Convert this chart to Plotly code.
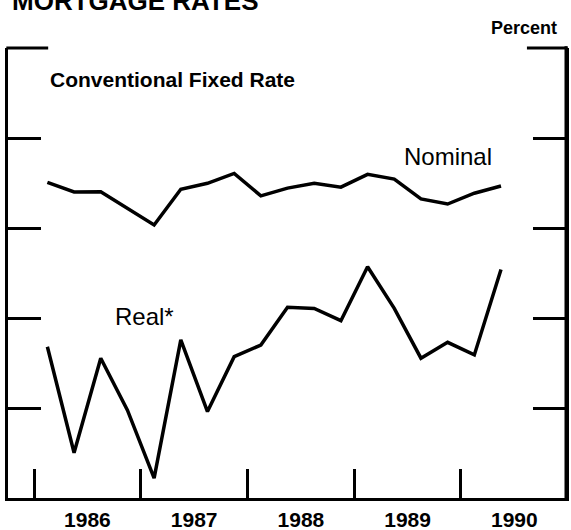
import plotly.graph_objects as go

# Quarterly observations, 1986Q1 - 1990Q2
quarters = ["1986Q1", "1986Q2", "1986Q3", "1986Q4",
            "1987Q1", "1987Q2", "1987Q3", "1987Q4",
            "1988Q1", "1988Q2", "1988Q3", "1988Q4",
            "1989Q1", "1989Q2", "1989Q3", "1989Q4",
            "1990Q1", "1990Q2"]

nominal = [10.52, 10.20, 10.21, 9.66, 9.10, 10.29, 10.49, 10.82, 10.07,
           10.33, 10.49, 10.36, 10.79, 10.63, 9.97, 9.80, 10.16, 10.40]

real = [5.04, 1.51, 4.66, 2.93, 0.66, 5.27, 2.88, 4.71, 5.10,
        6.36, 6.32, 5.91, 7.71, 6.32, 4.66, 5.19, 4.77, 7.62]

years = [1986, 1987, 1988, 1989, 1990]
year_labels = ["1986", "1987", "1988", "1989", "1990"]
y_ticks = [0, 3, 6, 9, 12, 15]


def q_to_x(q):
    y, n = q.split("Q")
    return int(y) + (int(n) - 1) * 0.25 + 0.125


x = [q_to_x(q) for q in quarters]

FONT = "Liberation Sans, Arial, Helvetica, sans-serif"

fig = go.Figure()
fig.add_trace(go.Scatter(x=x, y=nominal, mode="lines",
                         line=dict(color="black", width=3.5), name="Nominal",
                         showlegend=False))
fig.add_trace(go.Scatter(x=x, y=real, mode="lines",
                         line=dict(color="black", width=3.5), name="Real*",
                         showlegend=False))

frame = dict(color="black", width=3)
fig.update_layout(
    width=571, height=530,
    margin=dict(l=8, r=5, t=48, b=32, autoexpand=False),
    paper_bgcolor="white", plot_bgcolor="white",
    font=dict(family=FONT, color="black"),
    xaxis=dict(
        range=[1985.756, 1990.984],
        tickvals=[yv + 0.5 for yv in years],
        ticktext=year_labels,
        ticks="",
        ticklabelstandoff=1,
        automargin=False,
        tickfont=dict(size=21, family=FONT, weight="bold"),
        showgrid=False, zeroline=False,
        showline=True, linecolor="black", linewidth=3,
        minor=dict(tickvals=years, ticks="inside", ticklen=29,
                   tickwidth=3, tickcolor="black", showgrid=False),
    ),
    yaxis=dict(
        range=[0, 15],
        tickvals=y_ticks,
        showticklabels=False,
        automargin=False,
        ticks="inside", ticklen=33, tickwidth=3, tickcolor="black",
        showgrid=False, zeroline=False,
        showline=True, linecolor="black", linewidth=3,
        mirror="ticks",
    ),
    shapes=[
        # right frame line
        dict(type="line", xref="paper", yref="paper", x0=1, x1=1,
             y0=-0.004, y1=1.004, line=frame),
        # top corner marks
        dict(type="line", xref="paper", yref="paper", x0=-0.003, x1=0.072,
             y0=1, y1=1, line=frame),
        dict(type="line", xref="paper", yref="paper", x0=0.930, x1=1.003,
             y0=1, y1=1, line=frame),
    ],
    annotations=[
        dict(text="MORTGAGE RATES", xref="paper", yref="paper",
             x=0.0036, y=1.104, xanchor="left", yanchor="middle",
             showarrow=False, font=dict(size=26, family=FONT, weight="bold")),
        dict(text="Percent", xref="paper", yref="paper",
             x=0.988, y=1.044, xanchor="right", yanchor="middle",
             showarrow=False, font=dict(size=18, family=FONT, weight="bold")),
        dict(text="Conventional Fixed Rate", xref="paper", yref="paper",
             x=0.0717, y=0.931, xanchor="left", yanchor="middle",
             showarrow=False, font=dict(size=21, family=FONT, weight="bold")),
        dict(text="Nominal", xref="paper", yref="paper",
             x=0.706, y=0.758, xanchor="left", yanchor="middle",
             showarrow=False, font=dict(size=24, family=FONT)),
        dict(text="Real*", xref="paper", yref="paper",
             x=0.188, y=0.403, xanchor="left", yanchor="middle",
             showarrow=False, font=dict(size=24, family=FONT)),
    ],
)

fig.write_html("out.html",
               config={"displayModeBar": False},
               post_script="document.body.style.margin='0';"
                           "document.body.style.padding='0';")
